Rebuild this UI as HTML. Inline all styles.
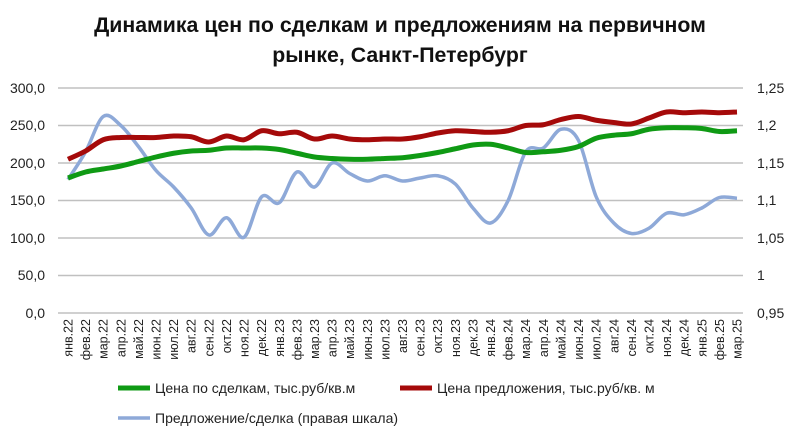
<!DOCTYPE html>
<html><head><meta charset="utf-8"><style>
body{margin:0;background:#fff;width:800px;height:439px;overflow:hidden}
svg{font-family:"Liberation Sans",sans-serif}
</style></head><body>
<svg id="s" width="800" height="439" viewBox="0 0 800 439">
<text x="400" y="32" font-size="21.3" font-weight="bold" text-anchor="middle" fill="#111">Динамика цен по сделкам и предложениям на первичном</text>
<text x="400" y="62" font-size="21.3" font-weight="bold" text-anchor="middle" fill="#111">рынке, Санкт-Петербург</text>
<g stroke="#c0c0c0" stroke-width="1.5">
<line x1="58" x2="743" y1="88" y2="88"/><line x1="58" x2="743" y1="125.5" y2="125.5"/><line x1="58" x2="743" y1="163" y2="163"/><line x1="58" x2="743" y1="200.5" y2="200.5"/><line x1="58" x2="743" y1="238" y2="238"/><line x1="58" x2="743" y1="275.5" y2="275.5"/><line x1="58" x2="743" y1="313" y2="313"/>
</g>
<g font-size="14" fill="#222" text-anchor="end">
<text x="45" y="93">300,0</text><text x="45" y="130">250,0</text><text x="45" y="168">200,0</text><text x="45" y="205">150,0</text><text x="45" y="243">100,0</text><text x="45" y="280">50,0</text><text x="45" y="318">0,0</text>
</g>
<g font-size="14" fill="#222">
<text x="757" y="93">1,25</text><text x="757" y="130">1,2</text><text x="757" y="168">1,15</text><text x="757" y="205">1,1</text><text x="757" y="243">1,05</text><text x="757" y="280">1</text><text x="757" y="318">0,95</text>
</g>
<g id="xl" font-size="12.5" fill="#222" text-anchor="end">
<text>янв.22</text><text>фев.22</text><text>мар.22</text><text>апр.22</text><text>май.22</text><text>июн.22</text><text>июл.22</text><text>авг.22</text><text>сен.22</text><text>окт.22</text><text>ноя.22</text><text>дек.22</text><text>янв.23</text><text>фев.23</text><text>мар.23</text><text>апр.23</text><text>май.23</text><text>июн.23</text><text>июл.23</text><text>авг.23</text><text>сен.23</text><text>окт.23</text><text>ноя.23</text><text>дек.23</text><text>янв.24</text><text>фев.24</text><text>мар.24</text><text>апр.24</text><text>май.24</text><text>июн.24</text><text>июл.24</text><text>авг.24</text><text>сен.24</text><text>окт.24</text><text>ноя.24</text><text>дек.24</text><text>янв.25</text><text>фев.25</text><text>мар.25</text>
</g>
<path id="pb" fill="none" stroke="#8ea9d8" stroke-width="3.5"/>
<path id="pr" fill="none" stroke="#a50a0a" stroke-width="5"/>
<path id="pg" fill="none" stroke="#0f9a14" stroke-width="5"/>
<line x1="118" x2="150" y1="388" y2="388" stroke="#0f9a14" stroke-width="5"/>
<text x="155" y="393" font-size="14" fill="#222">Цена по сделкам, тыс.руб/кв.м</text>
<line x1="400" x2="432" y1="388" y2="388" stroke="#a50a0a" stroke-width="5"/>
<text x="437" y="393" font-size="14" fill="#222">Цена предложения, тыс.руб/кв. м</text>
<line x1="118" x2="150" y1="418" y2="418" stroke="#8ea9d8" stroke-width="3.5"/>
<text x="155" y="423" font-size="14" fill="#222">Предложение/сделка (правая шкала)</text>
</svg>
<script>
var x0=68,dx=(737-68)/38;
var ts=document.querySelectorAll('#xl text');
ts.forEach(function(t,i){var x=x0+dx*i+4.5;t.setAttribute('transform','translate('+x+',319) rotate(-90)');});
function path(v){var p=v.map(function(a,i){return[x0+dx*i,313-a*0.75]});var d='M'+p[0][0]+','+p[0][1];
for(var i=0;i<p.length-1;i++){var a=p[Math.max(0,i-1)],b=p[i],c=p[i+1],e=p[Math.min(p.length-1,i+2)];
d+=' C'+(b[0]+(c[0]-a[0])/6)+','+(b[1]+(c[1]-a[1])/6)+' '+(c[0]-(e[0]-b[0])/6)+','+(c[1]-(e[1]-b[1])/6)+' '+c[0]+','+c[1];}return d;}
var g=[180,188,192,196,202,208,213,216,217,220,220,220,218,213,208,206,205,205,206,207,210,214,219,224,225,220,214,215,217,222,233,237,239,245,247,247,246,242,243];
var r=[205,216,231,234,234,234,236,235,228,236,231,243,239,241,232,236,232,231,232,232,235,240,243,242,241,243,250,251,258,262,257,254,252,260,268,267,268,267,268];
var b=[178,215,262,250,222,190,168,140,104,127,101,155,147,188,168,200,186,176,183,176,180,183,172,140,120,150,215,220,245,230,155,120,106,113,133,131,140,154,153];
document.getElementById('pg').setAttribute('d',path(g));
document.getElementById('pr').setAttribute('d',path(r));
document.getElementById('pb').setAttribute('d',path(b));
</script>
</body></html>
